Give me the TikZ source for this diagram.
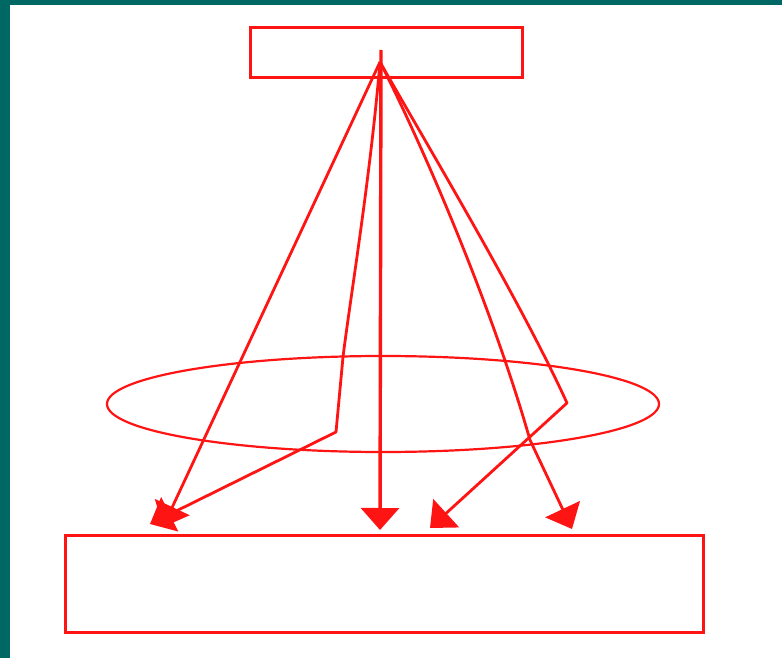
\documentclass[tikz,border=0pt]{standalone}
\usetikzlibrary{shapes.geometric,arrows.meta}
\definecolor{teal0}{RGB}{0,104,100}
\definecolor{gred}{RGB}{255,20,20}
\begin{document}
\begin{tikzpicture}[x=1pt,y=-1pt,
  boxnode/.style={draw=gred,line width=3pt,rectangle,inner sep=0pt,outer sep=0pt},
  ellnode/.style={draw=gred,line width=2.2pt,ellipse,inner sep=0pt,outer sep=0pt},
  edgeline/.style={draw=gred,line width=2.8pt,-{Triangle[length=22pt,width=38pt]},line join=round},
]
\useasboundingbox (0,0) rectangle (782,658);
\fill[teal0] (0,0) rectangle (782,658);
\fill[white] (10,5) rectangle (782,658);
% nodes
\node[boxnode,minimum width=272pt,minimum height=50pt] (top) at (386,53) {};
\node[ellnode,minimum width=552pt,minimum height=96pt] (mid) at (383,404) {};
\node[boxnode,minimum width=638pt,minimum height=97pt] (bot) at (384,583.5) {};
% coordinates
\coordinate (src) at (380,62);
\coordinate (stub) at (381,50);
\coordinate (t1) at (163,527);
\coordinate (t2) at (150,524);
\coordinate (t3) at (380,530);
\coordinate (t4) at (572,529);
\coordinate (t5) at (430,528);
\coordinate (b2a) at (343,357);
\coordinate (b2b) at (336,432);
\coordinate (b4) at (530,440);
\coordinate (b5) at (567,403);
% edges
\draw[edgeline] (src) -- (t1);
\draw[edgeline] (src) .. controls (370,180) and (350,300) .. (b2a) -- (b2b) -- (t2);
\draw[edgeline,line width=3.4pt] (stub) -- (t3);
\draw[edgeline] (src) .. controls (420,140) and (490,300) .. (b4) -- (t4);
\draw[edgeline] (src) .. controls (430,150) and (520,300) .. (b5) -- (t5);
\end{tikzpicture}
\end{document}
